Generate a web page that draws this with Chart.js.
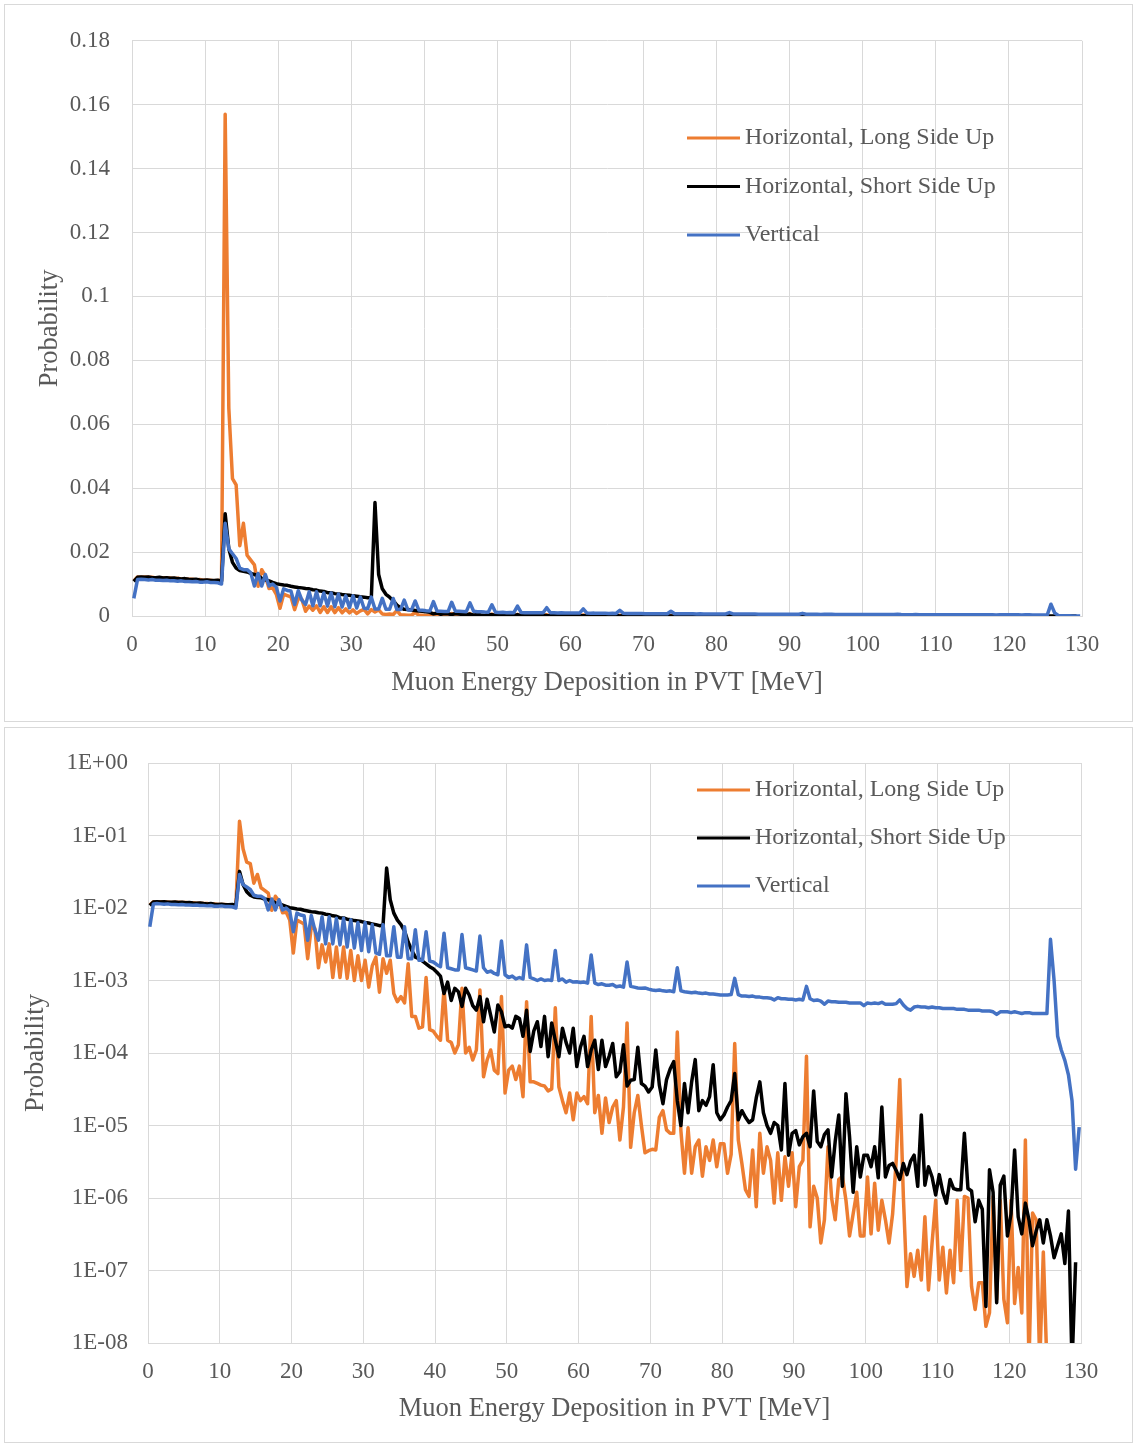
<!DOCTYPE html>
<html>
<head>
<meta charset="utf-8">
<script src="https://cdn.jsdelivr.net/npm/chart.js@4.4.1/dist/chart.umd.min.js"></script>
<style>
  body { margin: 0; background: #fff; }
  .panel { position: absolute; left: 4px; width: 1127px; border: 1px solid #d9d9d9; background: #fff; }
  #topPanel { top: 4px; height: 716px; }
  #bottomPanel { top: 727px; height: 714px; }
  canvas { display: block; }
</style>
</head>
<body>
<div class="panel" id="topPanel"><canvas id="linearChart" width="1127" height="716"></canvas></div>
<div class="panel" id="bottomPanel"><canvas id="logChart" width="1127" height="714"></canvas></div>
<script>
// Bin centres (MeV), 0.5 MeV bins
const energy = [
  0.25,0.75,1.25,1.75,2.25,2.75,3.25,3.75,4.25,4.75,5.25,5.75,6.25,6.75,7.25,7.75,8.25,8.75,9.25,9.75,
  10.25,10.75,11.25,11.75,12.25,12.75,13.25,13.75,14.25,14.75,15.25,15.75,16.25,16.75,17.25,17.75,18.25,18.75,19.25,19.75,
  20.25,20.75,21.25,21.75,22.25,22.75,23.25,23.75,24.25,24.75,25.25,25.75,26.25,26.75,27.25,27.75,28.25,28.75,29.25,29.75,
  30.25,30.75,31.25,31.75,32.25,32.75,33.25,33.75,34.25,34.75,35.25,35.75,36.25,36.75,37.25,37.75,38.25,38.75,39.25,39.75,
  40.25,40.75,41.25,41.75,42.25,42.75,43.25,43.75,44.25,44.75,45.25,45.75,46.25,46.75,47.25,47.75,48.25,48.75,49.25,49.75,
  50.25,50.75,51.25,51.75,52.25,52.75,53.25,53.75,54.25,54.75,55.25,55.75,56.25,56.75,57.25,57.75,58.25,58.75,59.25,59.75,
  60.25,60.75,61.25,61.75,62.25,62.75,63.25,63.75,64.25,64.75,65.25,65.75,66.25,66.75,67.25,67.75,68.25,68.75,69.25,69.75,
  70.25,70.75,71.25,71.75,72.25,72.75,73.25,73.75,74.25,74.75,75.25,75.75,76.25,76.75,77.25,77.75,78.25,78.75,79.25,79.75,
  80.25,80.75,81.25,81.75,82.25,82.75,83.25,83.75,84.25,84.75,85.25,85.75,86.25,86.75,87.25,87.75,88.25,88.75,89.25,89.75,
  90.25,90.75,91.25,91.75,92.25,92.75,93.25,93.75,94.25,94.75,95.25,95.75,96.25,96.75,97.25,97.75,98.25,98.75,99.25,99.75,
  100.25,100.75,101.25,101.75,102.25,102.75,103.25,103.75,104.25,104.75,105.25,105.75,106.25,106.75,107.25,107.75,108.25,108.75,109.25,109.75,
  110.25,110.75,111.25,111.75,112.25,112.75,113.25,113.75,114.25,114.75,115.25,115.75,116.25,116.75,117.25,117.75,118.25,118.75,119.25,119.75,
  120.25,120.75,121.25,121.75,122.25,122.75,123.25,123.75,124.25,124.75,125.25,125.75,126.25,126.75,127.25,127.75,128.25,128.75,129.25,129.75
];

// Horizontal, Long Side Up
const longSideUp = [
  1.10e-2,1.22e-2,1.21e-2,1.22e-2,1.21e-2,1.21e-2,1.19e-2,1.20e-2,1.20e-2,1.19e-2,
  1.19e-2,1.17e-2,1.18e-2,1.16e-2,1.16e-2,1.15e-2,1.15e-2,1.13e-2,1.14e-2,1.12e-2,
  1.12e-2,1.12e-2,1.10e-2,1.11e-2,1.10e-2,1.57e-1,6.5e-2,4.3e-2,4.1e-2,2.2e-2,
  2.9e-2,1.9e-2,1.75e-2,1.6e-2,9.3e-3,1.45e-2,1.25e-2,8.6e-3,8.8e-3,6.8e-3,
  2.4e-3,6.8e-3,6.4e-3,6.0e-3,2.0e-3,5.5e-3,5.2e-3,1.5e-3,3.1e-3,1.8e-3,
  3.2e-3,1.1e-3,2.9e-3,1.1e-3,2.9e-3,1.07e-3,2.6e-3,1.0e-3,2.2e-3,1.0e-3,
  1.9e-3,8.1e-4,1.6e-3,2.1e-3,6.9e-4,2.0e-3,1.26e-3,1.9e-3,6.6e-4,5.1e-4,
  6.0e-4,4.9e-4,1.7e-3,3.2e-4,3.2e-4,2.2e-4,2.3e-4,1.1e-3,2.1e-4,2.0e-4,
  1.7e-4,1.5e-4,7.8e-4,1.5e-4,1.4e-4,1.0e-4,1.3e-4,7.8e-4,1.0e-4,1.2e-4,
  8.0e-5,1.1e-4,7.4e-4,4.7e-5,8.0e-5,1.1e-4,5.8e-5,5.2e-5,6.0e-4,2.8e-5,
  5.8e-5,6.6e-5,4.3e-5,6.6e-5,2.5e-5,5.1e-4,4.0e-5,4.0e-5,3.8e-5,3.6e-5,
  3.5e-5,3.0e-5,3.2e-5,4.2e-4,3.4e-5,2.2e-5,1.5e-5,2.8e-5,1.2e-5,2.8e-5,
  2.2e-5,2.5e-5,2.0e-5,3.2e-4,1.5e-5,2.6e-5,7.8e-6,2.4e-5,1.1e-5,1.8e-5,
  2.2e-5,6.3e-6,1.8e-5,2.6e-4,5.0e-6,1.5e-5,2.6e-5,1.0e-5,4.2e-6,4.5e-6,
  4.7e-6,4.6e-6,1.3e-5,1.6e-5,8.7e-6,7.8e-6,7.8e-6,1.95e-4,8.5e-6,2.2e-6,
  9.3e-6,2.2e-6,5.1e-6,6.3e-6,2.0e-6,5.1e-6,3.3e-6,6.3e-6,2.7e-6,5.6e-6,
  5.6e-6,2.2e-6,4.0e-6,1.35e-4,6.3e-6,3.0e-6,1.3e-6,1.05e-6,4.6e-6,7.6e-7,
  7.8e-6,2.2e-6,5.1e-6,3.3e-6,8.5e-7,4.2e-6,9.3e-7,3.7e-6,1.45e-6,4.2e-6,
  7.6e-7,2.7e-6,3.3e-6,9.0e-5,4.0e-7,1.45e-6,1.0e-6,2.4e-7,5.0e-7,5.1e-6,
  1.0e-6,5.0e-7,1.8e-6,2.0e-6,9.3e-7,3.0e-7,6.0e-7,1.2e-6,3.0e-7,3.0e-7,
  1.95e-6,3.2e-7,1.6e-6,3.6e-7,9.3e-7,5.0e-7,2.4e-7,6.0e-7,3.3e-6,4.3e-5,
  1.05e-6,6.0e-8,1.7e-7,8.3e-8,1.9e-7,7.4e-8,5.5e-7,5.4e-8,2.4e-7,9.3e-7,
  7.4e-8,2.1e-7,4.9e-8,1.9e-7,6.8e-8,9.3e-7,1.0e-7,1.05e-6,1.0e-6,6.0e-8,
  2.9e-8,6.8e-8,6.8e-8,1.7e-8,2.6e-8,1.05e-6,4.0e-8,9.3e-7,4.0e-8,1.9e-8,
  9.3e-7,3.5e-8,1.1e-7,2.6e-8,6.3e-6,5e-9,6.2e-7,5.0e-7,5e-9,1.8e-7,
  5e-9,null,null,null,null,null,null,null,null,null
];

// Horizontal, Short Side Up
const shortSideUp = [
  1.08e-2,1.21e-2,1.22e-2,1.21e-2,1.22e-2,1.20e-2,1.20e-2,1.21e-2,1.19e-2,1.20e-2,
  1.18e-2,1.19e-2,1.17e-2,1.16e-2,1.17e-2,1.15e-2,1.14e-2,1.15e-2,1.13e-2,1.12e-2,
  1.13e-2,1.11e-2,1.11e-2,1.12e-2,1.09e-2,3.2e-2,2.1e-2,1.68e-2,1.5e-2,1.42e-2,
  1.4e-2,1.38e-2,1.33e-2,1.3e-2,1.25e-2,1.18e-2,1.13e-2,1.1e-2,1.05e-2,1.01e-2,
  9.9e-3,9.7e-3,9.6e-3,9.3e-3,9.1e-3,8.9e-3,8.8e-3,8.6e-3,8.5e-3,8.2e-3,
  8.1e-3,7.8e-3,7.7e-3,7.3e-3,7.3e-3,7.0e-3,6.9e-3,6.7e-3,6.6e-3,6.5e-3,
  6.3e-3,6.2e-3,6.0e-3,5.9e-3,5.7e-3,5.8e-3,3.55e-2,1.3e-2,8.5e-3,6.8e-3,
  5.9e-3,4.8e-3,3.4e-3,2.6e-3,2.1e-3,2.0e-3,1.85e-3,1.7e-3,1.55e-3,1.45e-3,
  1.3e-3,1.15e-3,6.6e-4,9.5e-4,5.3e-4,7.8e-4,7.0e-4,4.4e-4,7.8e-4,6.3e-4,
  4.5e-4,3.9e-4,6.0e-4,2.7e-4,5.5e-4,3.3e-4,1.95e-4,4.6e-4,3.7e-4,2.3e-4,
  2.4e-4,2.2e-4,3.2e-4,3.0e-4,1.7e-4,3.9e-4,1.05e-4,2.0e-4,2.7e-4,1.23e-4,
  3.2e-4,8.9e-5,2.6e-4,1.5e-4,8.9e-5,2.2e-4,1.4e-4,1.0e-4,2.2e-4,6.5e-5,
  1.2e-4,1.7e-4,6.5e-5,1.1e-4,1.5e-4,5.9e-5,1.5e-4,6.5e-5,9.0e-5,1.35e-4,
  4.7e-5,5.5e-5,1.3e-4,3.5e-5,4.2e-5,4.3e-5,1.2e-4,3.8e-5,3.5e-5,2.9e-5,
  3.4e-5,1.1e-4,3.6e-5,2.0e-5,4.3e-5,6.0e-5,7.6e-5,2.2e-5,1.0e-5,3.8e-5,
  1.5e-5,4.0e-5,8.1e-5,1.6e-5,2.2e-5,1.9e-5,2.5e-5,6.9e-5,1.5e-5,1.2e-5,
  1.4e-5,1.8e-5,2.2e-5,5.2e-5,1.2e-5,1.6e-5,1.3e-5,1.1e-5,1.2e-5,2.4e-5,
  4.0e-5,1.5e-5,1.0e-5,7.8e-6,1.1e-5,1.0e-5,4.6e-6,3.8e-5,3.9e-6,7.8e-6,
  8.5e-6,5.4e-6,7.0e-6,7.8e-6,5.1e-6,3.0e-5,6.0e-6,5.1e-6,7.5e-6,8.7e-6,
  1.95e-6,6.0e-6,1.4e-5,1.45e-6,2.75e-5,7.0e-6,1.2e-6,5.1e-6,1.95e-6,3.9e-6,
  3.9e-6,2.7e-6,5.1e-6,1.9e-6,1.8e-5,1.95e-6,2.8e-6,3.0e-6,2.4e-6,1.8e-6,
  3.0e-6,2.1e-6,3.2e-6,3.9e-6,1.45e-6,1.4e-5,1.5e-6,2.7e-6,1.95e-6,1.1e-6,
  2.1e-6,1.2e-6,8.5e-7,1.8e-6,1.35e-6,1.3e-6,1.3e-6,7.8e-6,1.35e-6,1.25e-6,
  4.7e-7,9.3e-7,7.0e-7,3.2e-8,2.45e-6,1.2e-6,3.6e-8,1.5e-6,2.0e-6,3.0e-7,
  6.0e-7,4.6e-6,5.5e-7,3.2e-7,8.5e-7,5.0e-7,2.2e-7,3.5e-7,5.0e-7,2.4e-7,
  5.0e-7,3.0e-7,1.5e-7,2.2e-7,3.2e-7,1.25e-7,6.6e-7,5e-9,1.3e-7,null
];

// Vertical
const vertical = [
  5.5e-3,1.14e-2,1.15e-2,1.14e-2,1.13e-2,1.14e-2,1.12e-2,1.12e-2,1.11e-2,1.12e-2,
  1.10e-2,1.10e-2,1.09e-2,1.10e-2,1.08e-2,1.08e-2,1.07e-2,1.08e-2,1.06e-2,1.06e-2,
  1.07e-2,1.05e-2,1.05e-2,1.04e-2,1.00e-2,2.9e-2,2.1e-2,1.95e-2,1.8e-2,1.5e-2,
  1.45e-2,1.45e-2,1.35e-2,9.4e-3,1.33e-2,9.4e-3,1.3e-2,9.4e-3,1.0e-2,9.0e-3,
  4.7e-3,8.5e-3,8.0e-3,7.8e-3,3.6e-3,7.9e-3,5.0e-3,3.6e-3,7.6e-3,3.2e-3,
  7.6e-3,3.2e-3,7.2e-3,3.1e-3,7.2e-3,2.9e-3,6.9e-3,2.8e-3,6.3e-3,2.6e-3,
  6.3e-3,2.5e-3,5.9e-3,2.4e-3,2.3e-3,5.9e-3,2.2e-3,2.2e-3,5.5e-3,2.1e-3,
  2.1e-3,5.5e-3,2.0e-3,2.0e-3,5.0e-3,1.9e-3,1.9e-3,4.7e-3,1.85e-3,1.8e-3,
  1.65e-3,1.55e-3,4.5e-3,1.5e-3,1.45e-3,1.4e-3,1.4e-3,4.3e-3,1.5e-3,1.45e-3,
  1.4e-3,1.35e-3,4.1e-3,1.5e-3,1.3e-3,1.35e-3,1.25e-3,1.2e-3,3.5e-3,1.2e-3,
  1.1e-3,1.15e-3,1.05e-3,1.1e-3,1.05e-3,3.1e-3,1.1e-3,1.05e-3,1.0e-3,1.05e-3,
  1.0e-3,1.02e-3,1.0e-3,2.6e-3,1.0e-3,1.05e-3,9.5e-4,1.0e-3,9.5e-4,9.6e-4,
  9.4e-4,9.5e-4,9.2e-4,2.25e-3,9.2e-4,8.8e-4,9.0e-4,8.6e-4,8.6e-4,8.8e-4,
  8.2e-4,8.4e-4,8.1e-4,1.8e-3,8.3e-4,8.1e-4,7.9e-4,7.8e-4,7.9e-4,7.6e-4,
  7.4e-4,7.3e-4,7.4e-4,7.2e-4,7.1e-4,7.2e-4,7.0e-4,1.5e-3,7.2e-4,7.0e-4,
  6.9e-4,6.8e-4,6.9e-4,6.7e-4,6.6e-4,6.7e-4,6.5e-4,6.5e-4,6.4e-4,6.3e-4,
  6.3e-4,6.3e-4,6.4e-4,1.07e-3,6.4e-4,6.1e-4,6.1e-4,6.0e-4,6.1e-4,5.9e-4,
  5.9e-4,5.8e-4,5.8e-4,5.7e-4,5.4e-4,5.8e-4,5.6e-4,5.6e-4,5.5e-4,5.5e-4,
  5.4e-4,5.5e-4,5.4e-4,8.3e-4,5.6e-4,5.3e-4,5.4e-4,5.2e-4,4.7e-4,5.2e-4,
  5.1e-4,5.1e-4,5.0e-4,5.0e-4,5.0e-4,4.9e-4,4.9e-4,4.9e-4,4.9e-4,4.5e-4,
  4.9e-4,4.8e-4,4.9e-4,4.8e-4,5.0e-4,4.7e-4,4.7e-4,4.7e-4,4.8e-4,5.4e-4,
  4.6e-4,4.1e-4,3.9e-4,4.3e-4,4.4e-4,4.3e-4,4.3e-4,4.2e-4,4.3e-4,4.2e-4,
  4.2e-4,4.1e-4,4.1e-4,4.1e-4,4.1e-4,4.0e-4,4.0e-4,4.0e-4,3.9e-4,3.9e-4,
  3.9e-4,3.9e-4,3.8e-4,3.8e-4,3.8e-4,3.7e-4,3.4e-4,3.7e-4,3.7e-4,3.7e-4,
  3.6e-4,3.7e-4,3.6e-4,3.5e-4,3.6e-4,3.6e-4,3.5e-4,3.5e-4,3.5e-4,3.5e-4,
  3.5e-4,3.7e-3,1.0e-3,1.7e-4,1.1e-4,7.9e-5,5.0e-5,2.2e-5,2.5e-6,9.5e-6
];

const seriesNames = ['Horizontal, Long Side Up', 'Horizontal, Short Side Up', 'Vertical'];
const seriesColors = ['#ED7D31', '#000000', '#4472C4'];
const linearTickLabels = ['0', '0.02', '0.04', '0.06', '0.08', '0.1', '0.12', '0.14', '0.16', '0.18'];
const logTickValues = [1e-8, 1e-7, 1e-6, 1e-5, 1e-4, 1e-3, 1e-2, 1e-1, 1];
const logTickLabels = ['1E-08', '1E-07', '1E-06', '1E-05', '1E-04', '1E-03', '1E-02', '1E-01', '1E+00'];
const xTitle = 'Muon Energy Deposition in PVT [MeV]';
const yTitle = 'Probability';

Chart.defaults.font.family = "'Liberation Serif', 'Times New Roman', serif";
Chart.defaults.color = '#595959';

// legend drawn inside the plot area, like the Excel one
const insideLegend = {
  id: 'insideLegend',
  afterDraw(chart, args, opts) {
    const ctx = chart.ctx;
    ctx.save();
    ctx.font = "24px 'Liberation Serif'";
    ctx.textBaseline = 'middle';
    ctx.textAlign = 'left';
    chart.data.datasets.forEach((ds, i) => {
      const y = opts.y + i * opts.rowGap;
      ctx.strokeStyle = ds.borderColor;
      ctx.lineWidth = 3;
      ctx.beginPath();
      ctx.moveTo(opts.x, y);
      ctx.lineTo(opts.x + 53, y);
      ctx.stroke();
      ctx.fillStyle = '#595959';
      ctx.fillText(ds.label, opts.x + 58, y);
    });
    ctx.restore();
  }
};

function makeDatasets() {
  return [longSideUp, shortSideUp, vertical].map((values, i) => ({
    label: seriesNames[i],
    data: values,
    borderColor: seriesColors[i],
    backgroundColor: seriesColors[i],
    borderWidth: 3.5,
    pointRadius: 0,
    tension: 0,
    borderJoinStyle: 'round',
    order: 3 - i
  }));
}

function xScale(height, titleBottom) {
  return {
    type: 'linear',
    min: 0,
    max: 130,
    ticks: { stepSize: 10, padding: 15, font: { size: 23 }, maxRotation: 0, autoSkip: false },
    grid: { color: '#d9d9d9', drawTicks: false },
    border: { color: '#d9d9d9' },
    title: { display: true, text: xTitle, font: { size: 26.5 }, padding: { top: 0, bottom: titleBottom } },
    afterFit: s => { s.height = height; }
  };
}

// 1. Linear probability scale
new Chart(document.getElementById('linearChart'), {
  type: 'line',
  data: { labels: energy, datasets: makeDatasets() },
  options: {
    responsive: false,
    animation: false,
    devicePixelRatio: 1,
    layout: { padding: { top: 35, right: 50, left: 0, bottom: 0 } },
    plugins: {
      legend: { display: false },
      tooltip: { enabled: false },
      insideLegend: { x: 682, y: 133, rowGap: 48.5 }
    },
    scales: {
      x: xScale(105, 22),
      y: {
        min: 0,
        max: 0.18,
        ticks: { stepSize: 0.02, padding: 22, font: { size: 23 }, callback: (v, i) => linearTickLabels[i] },
        grid: { color: '#d9d9d9', drawTicks: false },
        border: { color: '#d9d9d9' },
        title: { display: true, text: yTitle, font: { size: 26.5 }, padding: { top: 29, bottom: 0 } },
        afterFit: s => { s.width = 127; }
      }
    }
  },
  plugins: [insideLegend]
});

// 2. Log probability scale
new Chart(document.getElementById('logChart'), {
  type: 'line',
  data: { labels: energy, datasets: makeDatasets() },
  options: {
    responsive: false,
    animation: false,
    devicePixelRatio: 1,
    layout: { padding: { top: 35, right: 51, left: 0, bottom: 0 } },
    plugins: {
      legend: { display: false },
      tooltip: { enabled: false },
      insideLegend: { x: 692, y: 62, rowGap: 48 }
    },
    scales: {
      x: xScale(99, 17),
      y: {
        type: 'logarithmic',
        min: 1e-8,
        max: 1,
        afterBuildTicks: s => { s.ticks = logTickValues.map(v => ({ value: v })); },
        ticks: { padding: 20, font: { size: 23 }, callback: (v, i) => logTickLabels[i] },
        grid: { color: '#d9d9d9', drawTicks: false },
        border: { color: '#d9d9d9' },
        title: { display: true, text: yTitle, font: { size: 26.5 }, padding: { top: 15, bottom: 0 } },
        afterFit: s => { s.width = 143; }
      }
    }
  },
  plugins: [insideLegend]
});
</script>
</body>
</html>
